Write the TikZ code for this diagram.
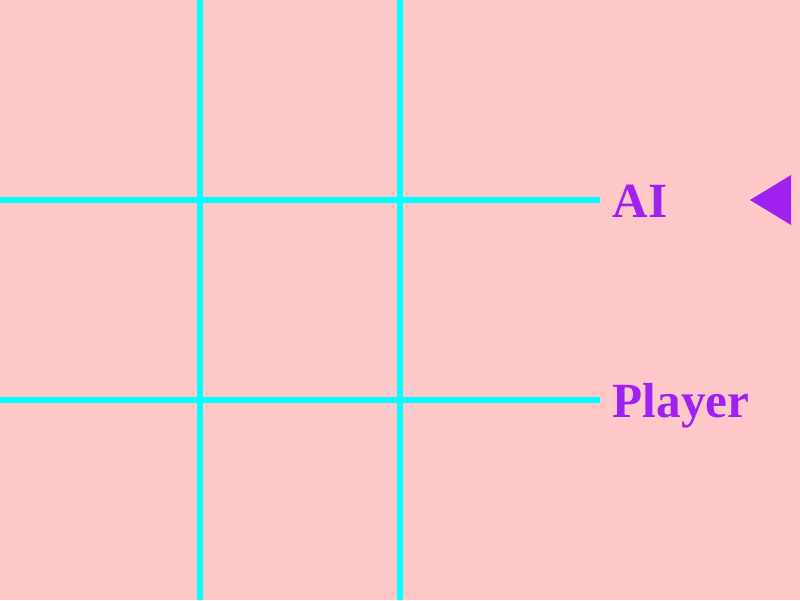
\documentclass[tikz,border=0pt]{standalone}
\usepackage{fontspec}
\setmainfont{Liberation Serif}
\usepackage{tikz}
\usetikzlibrary{positioning}
\definecolor{boardbg}{HTML}{FFC8C8}
\definecolor{gridcyan}{HTML}{00FFFF}
\definecolor{markpurple}{HTML}{A020F0}

\begin{document}
\begin{tikzpicture}[gridline/.style={gridcyan, line width=1.45pt},
    label/.style={markpurple, anchor=base west, inner sep=0pt, font=\bfseries\fontsize{14}{16}\selectfont}]
                \fill[boardbg] (0,0) rectangle (8,6);
                \useasboundingbox (0,0) rectangle (8,6);
                \draw[gridline] (2,0) -- (2,6);
                \draw[gridline] (4,0) -- (4,6);
                \draw[gridline] (0,4) -- (6,4);
                \draw[gridline] (0,2) -- (6,2);
                \node[label] (ai) at (6.12,3.83) {AI};
                \node[label] (player) at (6.12,1.83) {Player};
                \fill[markpurple] (7.5,4) -- (7.91,4.25) -- (7.91,3.75) -- cycle;
            \end{tikzpicture}
\end{document}
